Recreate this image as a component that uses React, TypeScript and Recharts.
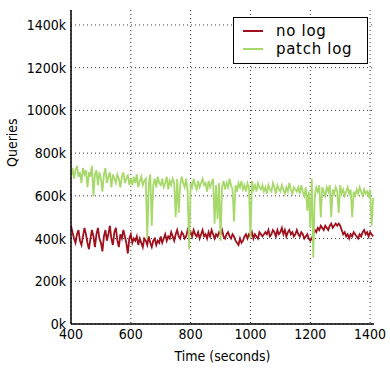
import React from 'react'
import { CartesianGrid, Line, LineChart, XAxis, YAxis } from 'recharts'

// sample every 5 seconds starting at 400
const START = 400
const STEP = 5

// queries (in thousands)
const noLog = [
  460, 430, 400, 380, 420, 440, 390, 370, 410, 450,
  420, 380, 350, 400, 440, 410, 360, 420, 450, 400,
  380, 340, 410, 440, 390, 420, 460, 400, 370, 430,
  450, 390, 360, 420, 400, 440, 410, 380, 330, 400,
  420, 380, 400, 390, 410, 370, 400, 380, 360, 400,
  390, 370, 410, 380, 360, 390, 400, 370, 390, 380,
  410, 380, 400, 420, 390, 410, 400, 430, 410, 390,
  420, 440, 410, 400, 430, 420, 400, 410, 440, 420,
  430, 410, 440, 420, 410, 430, 400, 420, 440, 410,
  420, 400, 430, 410, 440, 420, 400, 420, 410, 430,
  420, 440, 410, 400, 420, 430, 410, 400, 420, 410,
  390, 380, 370, 400, 380, 390, 410, 420, 400, 420,
  410, 430, 400, 420, 410, 400, 430, 420, 410, 420,
  430, 420, 440, 410, 420, 440, 430, 410, 440, 420,
  430, 450, 420, 440, 410, 430, 440, 420, 430, 410,
  420, 440, 420, 410, 430, 420, 400, 410, 420, 400,
  390, 400, 420, 440, 430, 450, 440, 460, 450, 440,
  460, 450, 440, 460, 470, 450, 460, 470, 460, 470,
  460, 440, 420, 430, 410, 420, 400, 420, 410, 430,
  420, 410, 400, 420, 410, 430, 440, 420, 430, 410,
  430, 420, 410,
]

const patchLog = [
  700, 730, 680, 720, 740, 690, 710, 660, 730, 700,
  720, 640, 710, 690, 740, 600, 700, 720, 650, 710,
  680, 620, 700, 730, 660, 690, 710, 640, 700, 680,
  660, 700, 680, 640, 690, 710, 660, 680, 700, 650,
  680, 650, 690, 660, 700, 640, 670, 690, 650, 670,
  680, 400, 660, 700, 460, 650, 680, 640, 690, 660,
  650, 680, 640, 660, 690, 630, 670, 650, 680, 660,
  500, 680, 520, 650, 690, 660, 640, 680, 620, 350,
  660, 640, 680, 650, 630, 670, 640, 660, 680, 650,
  660, 620, 670, 640, 660, 680, 470, 650, 490, 660,
  390, 640, 670, 630, 660, 640, 680, 650, 630, 480,
  650, 620, 660, 640, 670, 630, 650, 620, 660, 640,
  400, 670, 630, 650, 620, 660, 640, 630, 650, 620,
  640, 610, 650, 630, 620, 660, 640, 610, 650, 630,
  620, 650, 630, 610, 640, 620, 660, 630, 610, 640,
  630, 620, 640, 610, 650, 620, 600, 640, 530, 620,
  450, 680, 310, 600, 640, 620, 650, 500, 640, 620,
  600, 640, 620, 650, 500, 630, 610, 640, 620, 520,
  650, 610, 630, 600, 620, 640, 610, 630, 500, 620,
  600, 630, 610, 640, 620, 600, 630, 610, 620, 600,
  630, 460, 590,
]

const xTicks = [400, 600, 800, 1000, 1200, 1400]
const yTicks = [0, 200, 400, 600, 800, 1000, 1200, 1400]

const seriesInfo = [
  { key: 'noLog', name: 'no log', color: '#a0101c' },
  { key: 'patchLog', name: 'patch log', color: '#a6d96a' },
]

const data = noLog.map((v, i) => ({ t: START + i * STEP, noLog: v, patchLog: patchLog[i] }))

const font = '"DejaVu Sans Condensed", "DejaVu Sans", sans-serif'

const LegendBox = () => (
  <div
    style={{
      position: 'absolute',
      left: 233,
      top: 17,
      width: 117,
      height: 37,
      border: '1.5px solid #000',
      background: '#fff',
      padding: '4px 7px 4px 9px',
      fontFamily: '"DejaVu Sans", sans-serif',
      fontSize: 15,
      fontWeight: 500,
      letterSpacing: 0.7,
      lineHeight: '18px',
    }}
  >
    {seriesInfo.map((s) => (
      <div key={s.key} style={{ display: 'flex', alignItems: 'center' }}>
        <span style={{ display: 'inline-block', width: 20, height: 1.5, background: s.color, marginRight: 13 }} />
        <span>{s.name}</span>
      </div>
    ))}
  </div>
)

const App = () => {
  return (
    <div style={{ position: 'absolute', left: 0, top: 0, width: 390, height: 371, background: '#fff' }}>
      <LineChart width={390} height={371} data={data} margin={{ top: 10, right: 16, bottom: 0, left: 0 }}>
        <CartesianGrid stroke="#000" strokeDasharray="1 3" strokeWidth={0.8} horizontalValues={yTicks} verticalValues={xTicks} />
        <XAxis
          dataKey="t"
          type="number"
          domain={[400, 1413]}
          ticks={xTicks}
          allowDataOverflow
          stroke="#000"
          strokeWidth={1.5}
          tickSize={0}
          tickMargin={5}
          height={47}
          tick={{ fill: '#000', fontSize: 14, fontFamily: font }}
          label={{ value: 'Time (seconds)', position: 'insideBottom', offset: 10, fill: '#000', fontSize: 14, fontFamily: font }}
        />
        <XAxis xAxisId="top" orientation="top" dataKey="t" type="number" domain={[400, 1413]} tick={false} stroke="#000" strokeWidth={1.5} height={0} />
        <YAxis
          type="number"
          domain={[0, 1470]}
          ticks={yTicks}
          allowDataOverflow
          stroke="#000"
          strokeWidth={1.5}
          tickSize={0}
          tickMargin={5}
          width={71}
          tickFormatter={(v) => `${v}k`}
          tick={{ fill: '#000', fontSize: 14, fontFamily: font }}
          label={{ value: 'Queries', angle: -90, position: 'insideLeft', offset: 12, fill: '#000', fontSize: 14, fontFamily: font }}
        />
        <YAxis yAxisId="right" orientation="right" domain={[0, 1470]} tick={false} stroke="#000" strokeWidth={2} width={0} />
        {seriesInfo.map((s) => (
          <Line
            key={s.key}
            type="linear"
            dataKey={s.key}
            name={s.name}
            stroke={s.color}
            strokeWidth={1.8}
            dot={false}
            isAnimationActive={false}
          />
        ))}
      </LineChart>
      <LegendBox />
    </div>
  )
}

export default App
